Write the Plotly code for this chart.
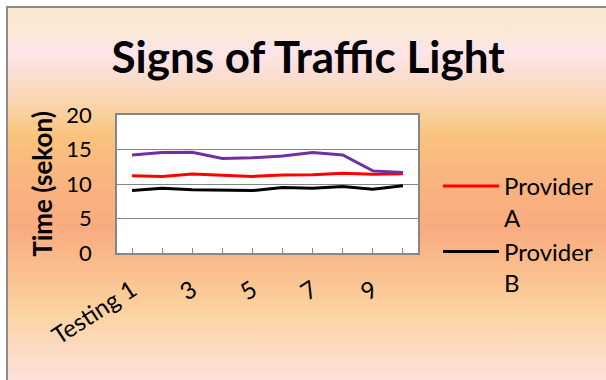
import base64
import plotly.graph_objects as go

# Chart data
categories = ["Testing 1", "2", "3", "4", "5", "6", "7", "8", "9", "10"]
tick_labels = ["Testing 1", "", "3", "", "5", "", "7", "", "9", ""]
provider_a = [11.2, 11.1, 11.45, 11.3, 11.1, 11.3, 11.35, 11.55, 11.4, 11.5]
provider_b = [9.05, 9.4, 9.15, 9.15, 9.05, 9.5, 9.4, 9.65, 9.25, 9.75]
provider_c = [14.2, 14.55, 14.6, 13.7, 13.8, 14.05, 14.55, 14.2, 11.9, 11.65]
series_names = ["Provider<br>A", "Provider<br>B", "Provider C"]

W, H = 606, 380
L, R, T, B = 117, 188, 115, 127
pw, ph = W - L - R, H - T - B

# Background: warm vertical gradient with a thin grey frame
stops = [
    (0.00, "#FAE9CF"), (0.07, "#FBE8D6"), (0.12, "#FCE4EA"), (0.19, "#FADCCC"),
    (0.27, "#F9D2A4"), (0.34, "#F9C37D"), (0.45, "#F9B57F"), (0.58, "#F9AB80"),
    (0.70, "#FAC08E"), (0.80, "#FBD3A0"), (0.90, "#FCDAC2"), (1.00, "#FDE1DE"),
]
stop_xml = "".join(f'<stop offset="{o}" stop-color="{c}"/>' for o, c in stops)
svg = (
    f'<svg xmlns="http://www.w3.org/2000/svg" width="{W}" height="{H}" '
    f'viewBox="0 0 {W} {H}" preserveAspectRatio="none">'
    f'<defs><linearGradient id="g" x1="0" y1="0" x2="0" y2="1">{stop_xml}</linearGradient></defs>'
    f'<rect x="0" y="0" width="{W}" height="{H}" fill="#ffffff"/>'
    f'<rect x="7" y="7" width="{W}" height="{H}" fill="url(#g)"/>'
    f'<path d="M7,{H} V7 H{W}" stroke="#8C8C8C" stroke-width="2" fill="none"/>'
    f'</svg>'
)
bg_uri = "data:image/svg+xml;base64," + base64.b64encode(svg.encode()).decode()

fig = go.Figure()
fig.add_trace(go.Scatter(x=categories, y=provider_a, name=series_names[0], mode="lines",
                         line=dict(color="#FF0000", width=3)))
fig.add_trace(go.Scatter(x=categories, y=provider_b, name=series_names[1], mode="lines",
                         line=dict(color="#000000", width=3)))
fig.add_trace(go.Scatter(x=categories, y=provider_c, name=series_names[2], mode="lines",
                         line=dict(color="#7030A0", width=3), showlegend=False))

fig.add_layout_image(
    source=bg_uri, xref="paper", yref="paper",
    x=-L / pw, y=1 + T / ph, sizex=W / pw, sizey=H / ph,
    xanchor="left", yanchor="top", sizing="stretch", layer="below",
)
# White plotting area on top of the gradient
fig.add_shape(type="rect", xref="paper", yref="paper", x0=0, x1=1, y0=0, y1=1,
              fillcolor="#ffffff", line=dict(width=0), layer="below")

fig.update_layout(
    width=W, height=H,
    margin=dict(l=L, r=R, t=T, b=B, autoexpand=False),
    paper_bgcolor="#ffffff", plot_bgcolor="#ffffff",
    font=dict(family="Lato", color="#000000"),
    title=dict(text="<b>Signs of Traffic Light</b>", font=dict(size=44, family="Lato"),
               xref="container", yref="container", x=308 / W, y=1 - 58 / H,
               xanchor="center", yanchor="middle"),
    legend=dict(xref="container", yref="container", x=438 / W, y=1 - 164 / H,
                xanchor="left", yanchor="top", font=dict(size=24, family="Lato"),
                bgcolor="rgba(0,0,0,0)", valign="top", itemwidth=56, tracegroupgap=0),
    showlegend=True,
)

fig.update_xaxes(
    type="category", range=[-0.5, 9.5],
    tickmode="array", tickvals=categories, ticktext=tick_labels,
    tickangle=-33, ticks="inside", ticklen=5, tickcolor="#868686",
    tickfont=dict(size=24, family="Lato"), ticklabelstandoff=12,
    showline=True, linecolor="#868686", linewidth=1.5, mirror=True,
    showgrid=False, zeroline=False,
)
fig.update_yaxes(
    range=[0, 20], dtick=5, tick0=0,
    tickfont=dict(size=22, family="Lato"), ticklabelstandoff=19,
    showline=True, linecolor="#868686", linewidth=1.5, mirror=True,
    showgrid=True, gridcolor="#868686", gridwidth=1, zeroline=False,
    title=dict(text="<b>Time (sekon)</b>", font=dict(size=26, family="Lato"), standoff=6),
)

fig.write_html("out.html")
